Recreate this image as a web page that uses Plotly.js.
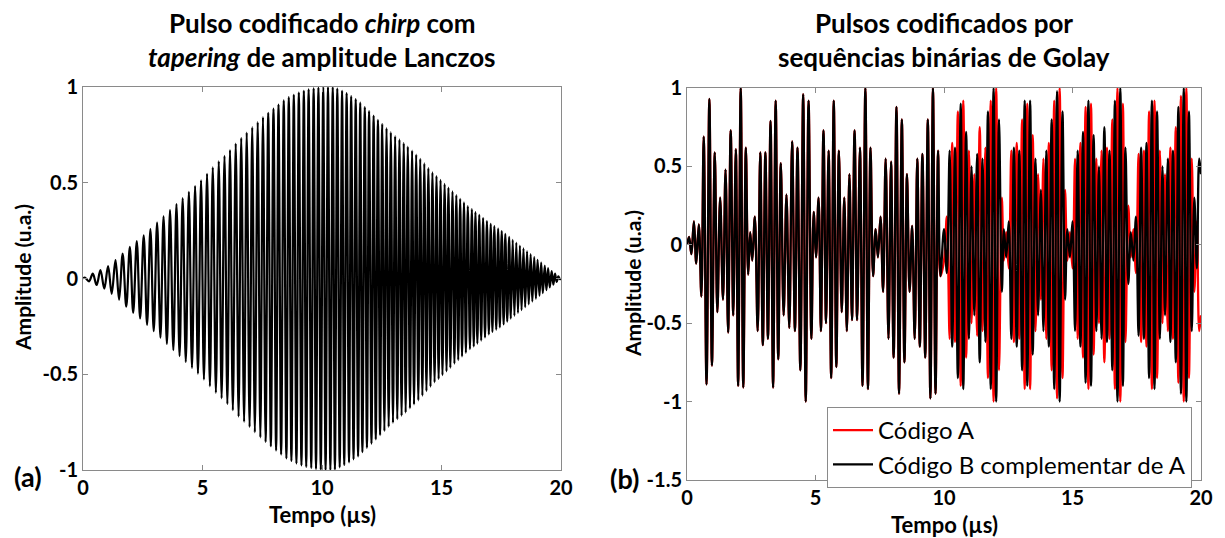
<!DOCTYPE html>
<html>
<head>
<meta charset="utf-8">
<script src="https://cdn.plot.ly/plotly-3.0.1.min.js"></script>
<style>html,body{margin:0;padding:0;background:#fff;}#chart{width:1225px;height:538px;}</style>
</head>
<body>
<div id="chart"></div>
<script>
// ---------- (a) chirp pulse: extrema (time in us, amplitude in a.u.)
const chirpTime = [0,
0.08,0.25,0.41,0.57,0.73,0.89,1.05,1.20,1.36,1.51,
1.66,1.81,1.96,2.10,2.25,2.39,2.54,2.68,2.82,2.96,
3.10,3.24,3.37,3.51,3.64,3.78,3.91,4.04,4.17,4.30,
4.43,4.56,4.69,4.81,4.94,5.06,5.19,5.31,5.43,5.56,
5.68,5.80,5.92,6.04,6.15,6.27,6.39,6.51,6.62,6.74,
6.85,6.97,7.08,7.19,7.31,7.42,7.53,7.64,7.75,7.86,
7.97,8.08,8.18,8.29,8.40,8.51,8.61,8.72,8.82,8.93,
9.03,9.14,9.24,9.34,9.44,9.55,9.65,9.75,9.85,9.95,
10.05,10.15,10.25,10.35,10.45,10.54,10.64,10.74,10.84,10.93,
11.03,11.13,11.22,11.32,11.41,11.51,11.60,11.69,11.79,11.88,
11.97,12.07,12.16,12.25,12.34,12.43,12.52,12.61,12.70,12.79,
12.88,12.97,13.06,13.15,13.24,13.33,13.42,13.50,13.59,13.68,
13.77,13.85,13.94,14.03,14.11,14.20,14.28,14.37,14.45,14.54,
14.62,14.71,14.79,14.88,14.96,15.04,15.13,15.21,15.29,15.37,
15.46,15.54,15.62,15.70,15.78,15.86,15.94,16.02,16.10,16.19,
16.27,16.35,16.42,16.50,16.58,16.66,16.74,16.82,16.90,16.98,
17.06,17.13,17.21,17.29,17.37,17.44,17.52,17.60,17.67,17.75,
17.83,17.90,17.98,18.05,18.13,18.20,18.28,18.35,18.43,18.50,
18.58,18.65,18.73,18.80,18.88,18.95,19.02,19.10,19.17,19.24,
19.32,19.39,19.46,19.53,19.61,19.68,19.75,19.82,19.89,19.96,
20];
const chirpAmp = [0,
0.005,-0.015,0.025,-0.034,0.044,-0.053,0.065,-0.08,0.096,-0.111,
0.13,-0.147,0.165,-0.18,0.195,-0.209,0.225,-0.242,0.258,-0.275,
0.292,-0.309,0.324,-0.341,0.357,-0.374,0.389,-0.405,0.42,-0.436,
0.452,-0.467,0.483,-0.497,0.513,-0.528,0.547,-0.563,0.58,-0.597,
0.612,-0.626,0.64,-0.656,0.671,-0.688,0.705,-0.721,0.734,-0.749,
0.762,-0.776,0.79,-0.803,0.817,-0.83,0.843,-0.854,0.865,-0.876,
0.887,-0.898,0.908,-0.919,0.93,-0.94,0.947,-0.953,0.959,-0.966,
0.971,-0.976,0.98,-0.984,0.988,-0.99,0.993,-0.995,0.997,-0.999,
1.0,-1.0,1.0,-1.0,1.0,-0.998,0.992,-0.986,0.98,-0.974,
0.968,-0.96,0.952,-0.944,0.937,-0.929,0.918,-0.907,0.895,-0.884,
0.874,-0.862,0.851,-0.84,0.829,-0.818,0.808,-0.797,0.786,-0.775,
0.764,-0.754,0.744,-0.735,0.726,-0.717,0.708,-0.70,0.689,-0.678,
0.668,-0.658,0.647,-0.636,0.625,-0.612,0.601,-0.588,0.577,-0.565,
0.554,-0.542,0.535,-0.525,0.515,-0.505,0.494,-0.485,0.475,-0.466,
0.455,-0.445,0.436,-0.426,0.416,-0.407,0.397,-0.388,0.378,-0.369,
0.363,-0.355,0.347,-0.34,0.332,-0.324,0.316,-0.308,0.30,-0.292,
0.285,-0.279,0.273,-0.267,0.26,-0.255,0.248,-0.24,0.233,-0.225,
0.217,-0.21,0.202,-0.195,0.187,-0.18,0.172,-0.165,0.157,-0.15,
0.142,-0.135,0.127,-0.12,0.112,-0.105,0.098,-0.09,0.083,-0.076,
0.068,-0.061,0.054,-0.047,0.039,-0.032,0.025,-0.018,0.011,-0.004,
0];

// ---------- (b) Golay coded pulses: extrema
// first half (0-10 us): codes A and B coincide
const golayTimeFirst = [
0.00,0.08,0.17,0.27,0.36,0.46,0.56,0.65,0.76,0.87,0.97,1.08,1.18,1.29,1.40,1.50,1.60,1.70,1.80,1.90,1.99,2.09,2.19,2.29,2.38,2.46,
2.54,2.64,2.75,2.85,2.95,3.05,3.15,3.25,3.35,3.45,3.55,3.65,3.76,3.87,3.98,4.09,4.20,4.30,4.41,4.52,4.62,4.73,4.84,
4.93,5.02,5.12,5.21,5.31,5.41,5.51,5.61,5.71,5.81,5.91,6.02,6.12,6.22,6.32,6.42,6.52,6.62,6.73,6.83,6.94,7.04,7.14,7.24,7.34,
7.43,7.53,7.63,7.73,7.84,7.94,8.04,8.15,8.25,8.36,8.46,8.56,8.66,8.76,8.86,8.96,9.06,9.16,9.27,9.37,9.47,9.57,9.67,9.77,9.86];
const golayShared = [
0,0.05,-0.06,0.15,-0.12,0.13,-0.33,0.69,-0.89,0.93,-0.77,0.59,-0.43,0.30,-0.35,0.48,-0.56,0.73,-0.45,0.61,-0.90,1.00,-0.91,0.62,-0.19,0.08,
-0.10,0.18,-0.55,0.59,-0.64,0.59,-0.60,0.79,-0.91,0.92,-0.73,0.52,-0.45,0.32,-0.53,0.66,-0.55,0.62,-0.80,0.96,-1.00,0.92,-0.60,
0.21,-0.08,0.30,-0.55,0.73,-0.50,0.60,-0.85,0.92,-0.78,0.60,-0.43,0.30,-0.55,0.45,-0.48,0.73,-0.48,0.62,-0.90,1.00,-0.92,0.62,-0.20,0.10,
-0.08,0.18,-0.30,0.55,-0.60,0.53,-0.72,0.88,-0.95,0.80,-0.75,0.45,-0.30,0.12,-0.60,0.55,-0.65,0.58,-0.72,0.80,-0.98,1.00,-0.95,0.60,-0.20];
// second half (10-20 us): codes A and B differ
const golayTimeSecond = [
10.00,10.11,10.22,10.32,10.43,10.54,10.65,10.75,10.86,10.97,11.07,11.18,11.29,11.39,11.50,11.61,11.71,11.82,11.93,12.03,12.14,12.25,12.33,
12.42,12.52,12.62,12.72,12.83,12.93,13.04,13.14,13.24,13.35,13.45,13.56,13.66,13.77,13.87,13.98,14.08,14.19,14.29,14.40,14.50,14.61,14.71,14.80,
14.90,15.00,15.10,15.20,15.31,15.41,15.51,15.62,15.72,15.82,15.93,16.03,16.13,16.24,16.34,16.44,16.55,16.65,16.75,16.86,16.96,17.06,17.17,17.27,
17.37,17.47,17.57,17.67,17.78,17.88,17.98,18.09,18.19,18.29,18.40,18.50,18.60,18.71,18.81,18.91,19.02,19.12,19.22,19.33,19.43,19.53,19.64,19.74,19.84,19.93,20.00];
const codeBSecond = [
0.10,-0.18,0.60,-0.65,0.62,-0.85,0.90,-0.92,0.72,-0.60,0.50,-0.45,0.58,-0.75,0.55,-0.62,0.85,-0.92,1.00,-1.00,0.80,-0.30,0.10,
-0.08,0.15,-0.60,0.62,-0.65,0.60,-0.80,0.92,-0.90,0.92,-0.70,0.55,-0.45,0.35,-0.55,0.60,-0.65,0.80,-0.92,0.98,-1.00,0.85,-0.35,0.10,
-0.08,0.15,-0.55,0.60,-0.65,0.72,-0.88,0.92,-0.90,0.70,-0.55,0.50,-0.60,0.75,-0.62,0.60,-0.80,0.92,-1.00,1.00,-0.90,0.62,-0.25,0.08,
-0.10,0.18,-0.58,0.62,-0.60,0.65,-0.85,0.92,-0.92,0.85,-0.60,0.50,-0.45,0.55,-0.62,0.60,-0.75,0.88,-0.95,1.00,-1.00,0.85,-0.55,0.30,-0.15,0.55,0.45];
const codeASecond = [
-0.10,0.18,-0.60,0.65,-0.62,0.85,-0.90,0.92,-0.72,0.60,-0.50,0.45,-0.58,0.75,-0.55,0.62,-0.85,0.92,-1.00,1.00,-0.80,0.30,-0.10,
0.08,-0.15,0.60,-0.62,0.65,-0.60,0.80,-0.92,0.90,-0.92,0.70,-0.55,0.45,-0.35,0.55,-0.60,0.65,-0.80,0.92,-0.98,1.00,-0.85,0.35,-0.10,
0.08,-0.15,0.55,-0.60,0.65,-0.72,0.88,-0.92,0.90,-0.70,0.55,-0.50,0.60,-0.75,0.62,-0.60,0.80,-0.92,1.00,-1.00,0.90,-0.62,0.25,-0.08,
0.10,-0.18,0.58,-0.62,0.60,-0.65,0.85,-0.92,0.92,-0.85,0.60,-0.50,0.45,-0.55,0.62,-0.60,0.75,-0.88,0.95,-1.00,1.00,-0.85,0.55,-0.30,0.15,-0.55,-0.45];

// ---------- labels
const xTickVals = [0, 5, 10, 15, 20];
const xTickText = ['0', '5', '10', '15', '20'];
const yTickValsA = [-1, -0.5, 0, 0.5, 1];
const yTickTextA = ['-1', '-0.5', '0', '0.5', '1'];
const yTickValsB = [-1.5, -1, -0.5, 0, 0.5, 1];
const yTickTextB = ['-1.5', '-1', '-0.5', '0', '0.5', '1'];
const seriesNames = ['Código A', 'Código B complementar de A'];

// ---------- build
const golayTime = golayTimeFirst.concat(golayTimeSecond);
const codeA = golayShared.concat(codeASecond);
const codeB = golayShared.concat(codeBSecond);

const W = 1225, H = 538;
const fx = p => p / W, fy = p => 1 - p / H;
const FONT = 'Lato, "Open Sans", sans-serif';
const AX = '#8a8a8a';

const traces = [
  {type:'scatter', mode:'lines', x: chirpTime, y: chirpAmp, xaxis:'x', yaxis:'y',
   line:{color:'#000', width:2.2, shape:'spline', smoothing:1}, showlegend:false, hoverinfo:'skip'},
  {type:'scatter', mode:'lines', x: golayTime, y: codeA, xaxis:'x2', yaxis:'y2', name: seriesNames[0],
   line:{color:'#ff0000', width:2.3, shape:'spline', smoothing:1}, hoverinfo:'skip'},
  {type:'scatter', mode:'lines', x: golayTime, y: codeB, xaxis:'x2', yaxis:'y2', name: seriesNames[1],
   line:{color:'#000', width:2.3, shape:'spline', smoothing:1}, hoverinfo:'skip'}
];

function axisBase(extra) {
  return Object.assign({
    showline:true, linecolor:AX, linewidth:1, mirror:'ticks',
    ticks:'inside', ticklen:5, tickwidth:1, tickcolor:AX,
    showgrid:false, zeroline:false, fixedrange:true,
    tickfont:{family:FONT, size:20, color:'#000', weight:'bold'},
    tickmode:'array'
  }, extra);
}

const layout = {
  width: W, height: H,
  margin:{l:0, r:0, t:0, b:0},
  paper_bgcolor:'#fff', plot_bgcolor:'#fff',
  showlegend:true,
  xaxis: axisBase({domain:[fx(83), fx(561)], range:[0,20], tickvals:xTickVals, ticktext:xTickText, anchor:'y'}),
  yaxis: axisBase({domain:[fy(470), fy(87)], range:[-1,1], tickvals:yTickValsA, ticktext:yTickTextA, anchor:'x'}),
  xaxis2: axisBase({domain:[fx(687), fx(1201)], range:[0,20], tickvals:xTickVals, ticktext:xTickText, anchor:'y2'}),
  yaxis2: axisBase({domain:[fy(480), fy(88)], range:[-1.5,1], tickvals:yTickValsB, ticktext:yTickTextB, anchor:'x2'}),
  legend:{x:fx(827), y:fy(407), xanchor:'left', yanchor:'top', bgcolor:'#fff',
          bordercolor:AX, borderwidth:1, font:{family:FONT, size:24, color:'#000'},
          tracegroupgap:0, itemwidth:40},
  annotations: []
};

function ann(text, px, py, size, angle) {
  layout.annotations.push({text:text, x:fx(px), y:fy(py), xref:'paper', yref:'paper',
    xanchor:'center', yanchor:'middle', showarrow:false, textangle:angle||0,
    font:{family:FONT, size:size, color:'#000'}});
}
ann('<b>Pulso codificado <i>chirp</i> com</b>', 322, 23, 26);
ann('<b><i>tapering</i> de amplitude Lanczos</b>', 322, 57, 26);
ann('<b>Pulsos codificados por</b>', 944, 23, 26);
ann('<b>sequências binárias de Golay</b>', 944, 57, 26);
ann('<b>Tempo (µs)</b>', 322, 514, 22);
ann('<b>Tempo (µs)</b>', 944, 524, 22);
ann('<b>Amplitude (u.a.)</b>', 22, 278, 21, -90);
ann('<b>Amplitude (u.a.)</b>', 632, 284, 21, -90);
ann('<b>(a)</b>', 28, 476, 27);
ann('<b>(b)</b>', 624, 478, 27);

Plotly.newPlot('chart', traces, layout, {staticPlot:true, displayModeBar:false});
</script>
</body>
</html>
